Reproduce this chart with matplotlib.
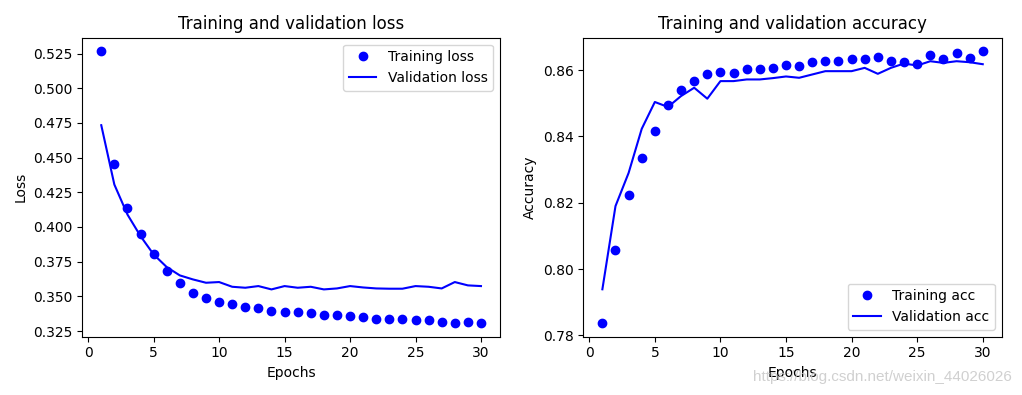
import matplotlib
matplotlib.use("Agg")
import matplotlib.pyplot as plt

epochs = list(range(1, 31))

train_loss = [0.5267, 0.4455, 0.4138, 0.3951, 0.3802, 0.3684, 0.3593, 0.3523, 0.3485, 0.3456,
              0.3446, 0.3425, 0.3415, 0.3396, 0.3386, 0.3386, 0.3377, 0.3367, 0.3367, 0.3358,
              0.3348, 0.3338, 0.3338, 0.3338, 0.3329, 0.3329, 0.3317, 0.3307, 0.3317, 0.3307]
val_loss = [0.4734, 0.4306, 0.4090, 0.3934, 0.3802, 0.3711, 0.3651, 0.3622, 0.3598, 0.3603,
            0.3569, 0.3562, 0.3574, 0.3550, 0.3574, 0.3562, 0.3569, 0.3550, 0.3557, 0.3574,
            0.3564, 0.3557, 0.3555, 0.3555, 0.3574, 0.3569, 0.3557, 0.3603, 0.3579, 0.3574]

train_acc = [0.7837, 0.8057, 0.8223, 0.8335, 0.8417, 0.8495, 0.8541, 0.8567, 0.8587, 0.8595,
             0.8592, 0.8604, 0.8604, 0.8608, 0.8616, 0.8612, 0.8625, 0.8629, 0.8629, 0.8633,
             0.8633, 0.8641, 0.8629, 0.8625, 0.8618, 0.8645, 0.8633, 0.8653, 0.8637, 0.8657]
val_acc = [0.7939, 0.8190, 0.8290, 0.8423, 0.8504, 0.8489, 0.8522, 0.8547, 0.8514, 0.8567,
           0.8567, 0.8572, 0.8572, 0.8576, 0.8581, 0.8577, 0.8587, 0.8597, 0.8597, 0.8597,
           0.8607, 0.8589, 0.8607, 0.8620, 0.8614, 0.8627, 0.8622, 0.8627, 0.8624, 0.8618]

fig = plt.figure(figsize=(10.22, 3.95), dpi=100)
ax1 = fig.add_axes([0.0805, 0.1476, 0.4087, 0.757])
ax2 = fig.add_axes([0.5708, 0.1476, 0.4094, 0.757])

ax1.plot(epochs, train_loss, 'bo', label='Training loss')
ax1.plot(epochs, val_loss, 'b', label='Validation loss')
ax1.set_title('Training and validation loss')
ax1.set_xlabel('Epochs')
ax1.set_ylabel('Loss')
ax1.legend()

ax2.plot(epochs, train_acc, 'bo', label='Training acc')
ax2.plot(epochs, val_acc, 'b', label='Validation acc')
ax2.set_title('Training and validation accuracy')
ax2.set_xlabel('Epochs')
ax2.set_ylabel('Accuracy')
ax2.legend(loc='lower right')

fig.text(0.99, 0.045, 'https://blog.csdn.net/weixin_44026026', ha='right', va='center',
         fontsize=11, family='Liberation Sans', color='#c8c8c8', alpha=0.85)

fig.savefig('out.png', dpi=100)
